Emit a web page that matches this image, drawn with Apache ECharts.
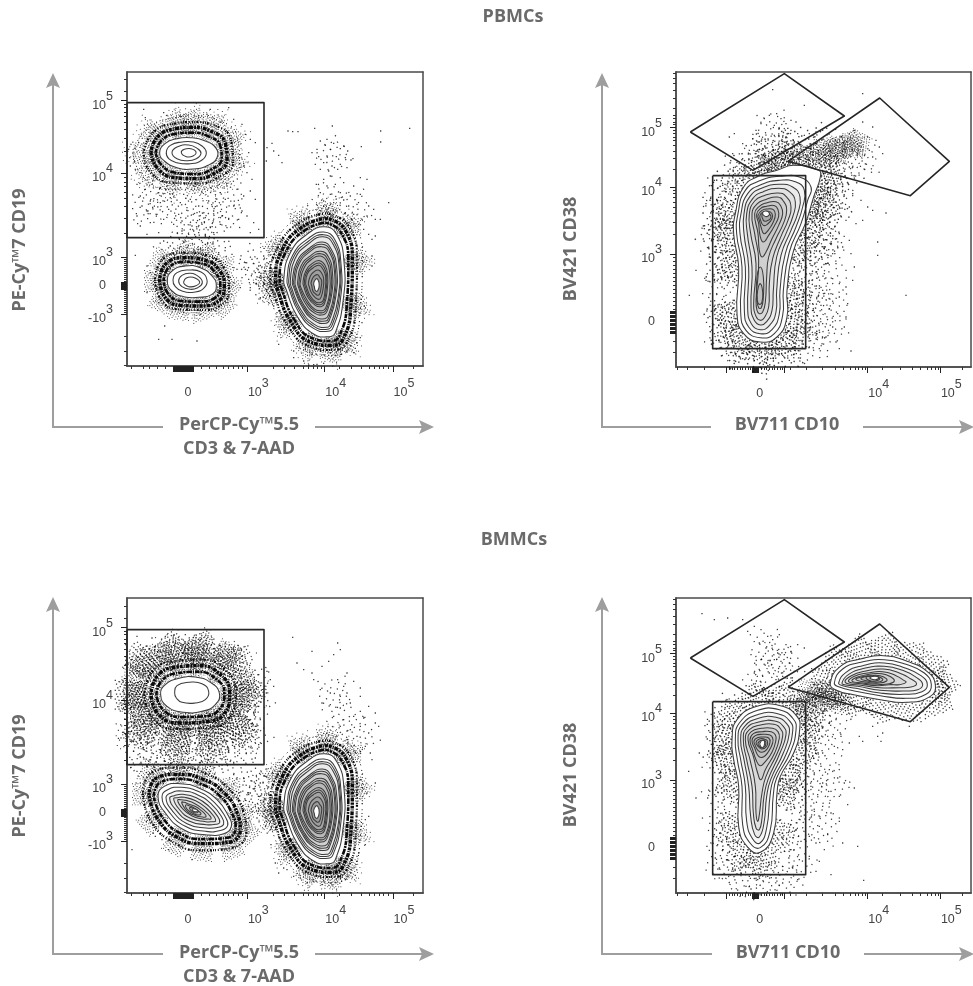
<!DOCTYPE html>
<html>
<head>
<meta charset="utf-8">
<title>PBMCs and BMMCs gating</title>
<script src="https://cdn.jsdelivr.net/npm/echarts@6/dist/echarts.min.js"></script>
<style>html,body{margin:0;padding:0;background:#fff}#chart{width:973px;height:986px}</style>
</head>
<body>
<div id="chart"></div>
<script>
// All marks are in channels: the plot scale is 0-888 on x, 0-882 on y (biexponential display).

// ---- tick positions (channel of each tick) ----
const cd3Labels = [[183,'0'],[361,'10',3],[593,'10',4],[798,'10',5]];
const cd3Major = [138,141,144,147,150,153,156,159,162,165,168,171,174,177,180,183,186,189,192,195,198,361,593,798];
const cd3Minor = [13,48,68,90,116,223,246,268,288,303,318,333,346,438,473,503,528,543,558,570,583,638,673,703,728,743,758,768,783,858];
const cd19Labels = [[796,'10',5],[578,'10',4],[326,'10',3],[240,'0'],[155,'-10',3]];
const cd19Major = [796,578,326,155,230,232,234,236,238,240,242,244,246,248,250,252];
const cd19Minor = [860,823,786,775,762,748,730,709,682,643,565,552,538,520,503,478,443,398,320,314,308,302,296,290,284,278,272,266,260,254,228,222,216,210,204,198,192,186,180,174,168,162,88,43,3];
const cd10Labels = [[251,'0'],[575,'10',4],[793,'10',5]];
const cd10Major = [151,228,231,234,237,240,243,246,248,325,575,793];
const cd10Minor = [3,35,85,160,168,176,184,192,200,208,216,224,256,264,272,280,288,296,304,312,320,343,391,438,478,501,523,538,548,558,568,618,673,708,733,753,765,778,788,858];
const cd38Labels = [[718,'10',5],[540,'10',4],[338,'10',3],[135,'0']];
const cd38Major = [718,540,338,100,104,108,112,116,120,124,128,132,136,140,144,148,152,156,160,164,168];
const cd38Minor = [882,865,850,830,805,775,755,745,735,728,710,701,690,679,664,647,625,594,531,520,509,495,479,460,435,399,330,318,306,294,282,270,258,246,234,222,210,198,186,174,78,45];

// ---- gates ----
const gateCd19 = [[0,790],[411,790],[411,385],[0,385]];
const gateCd38Plasma = [[43,705],[325,880],[505,753],[231,590]];
const gateCd10Pos = [[336,617],[611,807],[820,617],[703,514]];
const gateCd10Neg = [[110,574],[389,574],[389,55],[110,55]];

// ---- contours, outermost first ----
const tCellContours = [
  [[593,418],[630,393],[651,313],[648,193],[625,100],[608,88],[560,96],[510,150],[478,228],[470,258],[490,340],[540,395]],
  [[590,402],[624,378],[642,306],[640,198],[618,115],[603,104],[561,112],[516,160],[486,232],[480,258],[497,332],[543,382]],
  [[589,394],[621,372],[639,303],[636,200],[615,122],[601,110],[562,118],[519,164],[490,233],[485,257],[500,327],[545,375]],
  [[588,388],[618,366],[636,300],[633,202],[612,128],[600,116],[562,125],[522,168],[494,234],[490,256],[504,322],[546,368]],
  [[586,372],[612,352],[629,294],[626,206],[608,140],[597,128],[562,136],[526,176],[500,236],[496,254],[510,314],[548,354]],
  [[585,365],[610,346],[625,291],[623,208],[606,146],[596,135],[562,142],[528,180],[503,237],[500,254],[513,310],[549,349]],
  [[584,358],[608,340],[622,288],[620,210],[604,152],[594,142],[563,148],[530,184],[506,238],[504,254],[516,306],[550,344]],
  [[582,344],[604,328],[616,284],[614,214],[600,164],[590,154],[564,158],[534,190],[514,238],[512,252],[522,300],[552,332]],
  [[581,337],[601,322],[612,282],[611,216],[598,169],[588,160],[564,164],[537,194],[517,239],[516,252],[526,296],[553,326]],
  [[580,330],[598,316],[608,280],[608,218],[596,174],[586,166],[564,170],[540,198],[520,240],[520,252],[530,292],[554,320]],
  [[578,316],[594,302],[602,274],[600,222],[592,186],[582,178],[565,182],[544,204],[530,240],[528,250],[536,284],[556,308]],
  [[577,309],[591,296],[599,271],[597,224],[590,191],[580,184],[565,187],[547,207],[534,240],[532,250],[539,281],[557,301]],
  [[576,302],[588,290],[596,268],[594,226],[588,196],[578,190],[566,192],[550,210],[538,240],[536,250],[542,278],[558,294]],
  [[574,288],[584,278],[590,262],[588,230],[582,206],[576,200],[566,204],[554,218],[546,240],[544,248],[550,270],[560,282]],
  [[572,274],[578,266],[584,256],[582,234],[578,216],[572,212],[566,216],[558,224],[554,242],[552,248],[556,262],[562,270]],
  [[570,262],[574,256],[576,250],[576,236],[572,226],[568,224],[564,228],[562,238],[560,246],[562,254],[566,260]]
];
const tCellRings = [
  [[595,430],[640,403],[664,313],[660,190],[637,90],[610,75],[555,84],[500,142],[466,226],[458,258],[478,345],[535,408]],
  [[597,443],[652,412],[676,313],[672,185],[648,80],[612,62],[550,72],[490,135],[454,222],[446,258],[466,350],[530,420]],
  [[600,458],[665,420],[690,313],[686,180],[660,72],[614,48],[545,60],[480,125],[440,218],[430,258],[452,355],[525,435]],
  [[605,475],[680,430],[706,313],[700,172],[672,60],[616,32],[538,45],[470,115],[425,215],[412,258],[438,360],[520,450]]
];
const pbmcBContours = [
  [[98,640],[115,668],[150,682],[190,685],[235,675],[268,652],[270,625],[245,603],[200,591],[150,595],[112,615]],
  [[118,642],[130,662],[165,672],[200,672],[225,660],[238,640],[225,618],[190,607],[150,610],[125,622]],
  [[135,640],[150,657],[185,663],[212,652],[222,638],[208,622],[180,616],[150,622]],
  [[163,640],[172,650],[192,652],[207,642],[198,630],[178,628]]
];
const pbmcBRings = [
  [[86,640],[105,678],[150,697],[192,700],[242,690],[280,660],[284,622],[253,590],[202,576],[145,580],[102,605]],
  [[72,640],[92,688],[148,712],[195,716],[250,705],[295,668],[300,618],[262,578],[205,562],[140,566],[90,595]],
  [[50,640],[78,700],[146,728],[198,732],[260,722],[312,678],[318,612],[272,565],[208,548],[135,550],[70,582]],
  [[18,640],[60,712],[145,745],[200,750],[270,738],[330,690],[338,610],[285,550],[210,530],[130,530],[50,565]]
];
const pbmcNegContours = [
  [[121,255],[135,285],[175,300],[220,295],[255,270],[268,240],[255,215],[215,206],[170,208],[135,225]],
  [[138,258],[150,280],[185,288],[222,282],[240,258],[232,235],[205,222],[165,225],[145,238]],
  [[155,255],[165,272],[190,278],[215,268],[226,250],[212,235],[190,230],[165,238]],
  [[170,252],[178,264],[198,266],[218,252],[205,240],[185,238],[173,245]]
];
const pbmcNegRings = [
  [[110,255],[125,295],[175,312],[225,307],[265,280],[280,240],[265,205],[215,193],[165,195],[125,215]],
  [[98,255],[115,305],[175,325],[232,318],[275,290],[292,240],[275,195],[218,180],[160,182],[115,205]],
  [[84,255],[105,318],[175,340],[240,332],[288,298],[306,240],[285,185],[220,168],[155,170],[105,195]]
];
const bmmcBContours = [
  [[101,595],[115,625],[160,645],[205,648],[250,632],[277,600],[265,565],[225,545],[170,542],[120,560]],
  [[143,600],[150,622],[185,632],[225,628],[245,605],[235,580],[205,570],[165,572],[148,585]]
];
const bmmcBRings = [
  [[88,595],[105,638],[155,660],[208,664],[262,646],[292,600],[278,552],[230,530],[165,528],[110,548]],
  [[72,595],[92,652],[150,678],[212,682],[275,660],[308,600],[292,538],[235,514],[160,510],[95,535]],
  [[52,595],[78,666],[145,696],[216,700],[288,676],[326,600],[306,524],[240,496],[155,492],[80,520]],
  [[30,595],[62,682],[140,716],[220,720],[302,692],[344,600],[322,508],[245,476],[150,472],[60,502]],
  [[8,595],[44,700],[135,730],[225,734],[318,700],[364,600],[340,490],[250,452],[145,450],[40,484]],
  [[5,470],[140,425],[260,428],[355,470],[385,600],[340,705],[228,745],[130,742],[30,705],[-8,600]]
];
const bmmcNegContours = [
  [[93,290],[112,320],[160,328],[215,315],[270,280],[305,230],[313,200],[290,178],[235,175],[170,190],[115,240]],
  [[105,288],[122,310],[162,317],[213,305],[262,272],[295,228],[302,203],[283,188],[236,185],[175,200],[125,245]],
  [[117,286],[132,300],[165,306],[211,295],[254,266],[284,228],[290,207],[275,197],[237,195],[180,208],[135,248]],
  [[128,284],[142,292],[168,296],[208,286],[246,260],[273,228],[278,211],[266,206],[238,205],[186,216],[146,250]],
  [[140,282],[152,286],[172,287],[206,277],[238,255],[262,228],[266,216],[256,214],[236,214],[190,224],[156,252]],
  [[152,278],[162,280],[176,278],[204,268],[230,250],[250,230],[252,222],[244,222],[228,222],[194,232],[166,254]],
  [[164,272],[172,272],[182,268],[204,260],[222,248],[236,234],[236,228],[226,228],[206,232],[184,242],[172,256]],
  [[176,264],[186,262],[204,254],[214,246],[222,238],[214,234],[200,238],[186,246],[178,254]],
  [[188,256],[200,254],[208,250],[214,244],[206,240],[196,244],[190,250]],
  [[196,252],[204,252],[212,248],[206,244],[198,246]]
];
const bmmcNegRings = [
  [[80,292],[100,332],[158,342],[220,328],[280,290],[318,232],[326,195],[297,165],[232,162],[162,178],[103,232]],
  [[66,294],[88,345],[156,356],[226,342],[292,300],[332,236],[340,190],[304,152],[228,148],[155,165],[90,225]],
  [[48,296],[72,360],[154,376],[232,360],[306,312],[350,240],[358,184],[312,135],[224,128],[146,148],[72,215]]
];
const pbmcFootContours = [
  [[178,460],[203,540],[253,575],[303,590],[353,605],[428,590],[433,570],[413,510],[388,430],[353,350],[333,230],[333,150],[303,90],[253,75],[203,100],[183,160],[188,300],[173,400]],
  [[186,460],[208,530],[255,560],[310,572],[370,570],[405,540],[395,500],[375,430],[340,345],[322,230],[320,155],[295,100],[253,88],[210,110],[194,165],[198,300],[182,400]],
  [[195,460],[215,520],[258,548],[310,560],[360,555],[385,530],[380,480],[360,420],[328,340],[312,230],[310,160],[288,112],[253,100],[218,120],[205,170],[208,300],[192,400]],
  [[204,460],[222,512],[260,538],[310,548],[350,540],[372,510],[365,460],[345,410],[315,335],[302,230],[300,165],[280,124],[253,112],[226,130],[215,175],[218,300],[204,400]],
  [[212,460],[230,505],[262,526],[308,536],[340,526],[358,495],[350,450],[330,400],[302,330],[292,230],[288,170],[272,136],[253,126],[234,142],[225,180],[228,300],[214,400]],
  [[220,460],[236,498],[264,514],[306,522],[330,512],[345,480],[336,440],[315,392],[290,325],[280,250],[278,180],[265,148],[253,140],[240,152],[233,190],[240,310],[224,400]],
  [[228,460],[244,490],[268,502],[304,510],[322,498],[332,470],[322,430],[300,385],[278,330],[272,270],[268,195],[260,165],[250,160],[243,170],[240,200],[248,320],[236,400]],
  [[236,460],[250,482],[270,492],[300,496],[314,484],[320,460],[308,425],[288,385],[270,345],[258,330],[250,350],[246,400]],
  [[253,300],[262,270],[262,210],[256,178],[248,178],[242,205],[243,270]],
  [[242,458],[254,476],[272,482],[296,484],[306,472],[308,452],[296,425],[278,395],[262,375],[252,395],[248,430]],
  [[253,250],[260,225],[258,195],[250,188],[244,200],[245,230]],
  [[246,455],[258,470],[275,474],[292,472],[298,458],[292,435],[278,412],[264,400],[255,420],[250,440]],
  [[252,455],[262,465],[276,467],[288,460],[288,445],[274,428],[262,425],[254,440]],
  [[258,458],[268,462],[282,458],[284,446],[272,438],[262,440]],
  [[260,463],[270,468],[280,462],[275,452],[264,454]]
];
const pbmcFootRings = [
  [[165,460],[195,550],[250,592],[305,608],[360,625],[435,610],[450,570],[430,500],[402,430],[368,350],[348,230],[348,140],[315,75],[253,58],[195,85],[170,155],[175,300],[160,400]],
  [[150,460],[185,560],[245,610],[305,625],[365,645],[445,635],[470,570],[445,490],[420,420],[385,340],[365,220],[365,130],[325,62],[253,42],[185,72],[158,150],[160,300],[145,400]],
  [[130,460],[170,570],[240,630],[305,650],[370,670],[460,668],[495,570],[470,480],[440,410],[405,330],[385,210],[385,120],[335,50],[253,30],[175,60],[140,140],[140,300],[125,400]]
];
const bmmcFootContours = [
  [[168,460],[183,520],[243,560],[313,562],[363,530],[371,490],[353,420],[313,350],[303,300],[293,180],[253,122],[213,140],[188,200],[188,320],[173,400]],
  [[178,460],[190,510],[245,548],[310,550],[352,522],[360,488],[342,420],[302,345],[292,295],[282,185],[253,136],[222,150],[200,205],[198,320],[184,400]],
  [[186,460],[198,505],[248,536],[305,538],[342,515],[350,485],[332,420],[292,340],[282,290],[272,195],[252,150],[230,162],[212,215],[208,320],[194,400]],
  [[194,460],[206,500],[250,525],[300,527],[332,508],[340,480],[322,420],[284,340],[272,290],[264,210],[250,168],[236,175],[224,230],[218,320],[204,400]],
  [[202,460],[212,495],[252,514],[296,516],[322,500],[330,475],[312,420],[276,340],[264,290],[258,225],[250,190],[240,195],[232,240],[228,320],[212,400]],
  [[208,460],[220,490],[254,504],[294,506],[314,492],[320,470],[304,420],[270,350],[258,300],[250,235],[245,215],[240,240],[238,320],[222,400]],
  [[216,460],[226,484],[256,494],[290,494],[306,484],[310,465],[296,420],[268,370],[255,340],[245,360],[232,410]],
  [[222,460],[232,478],[258,484],[286,484],[298,475],[300,460],[288,422],[266,392],[252,382],[240,400],[230,430]],
  [[228,458],[238,472],[260,476],[282,474],[290,465],[290,450],[278,425],[262,408],[248,410],[236,435]],
  [[234,456],[244,466],[262,468],[278,465],[282,452],[272,430],[258,422],[246,428],[238,442]],
  [[240,452],[250,462],[264,462],[274,456],[272,440],[258,432],[248,438]],
  [[246,450],[256,458],[268,456],[268,442],[258,436],[250,440]],
  [[252,450],[262,458],[266,448],[260,436],[254,440]]
];
const bmmcFootRings = [
  [[155,460],[172,530],[240,575],[318,576],[376,540],[385,490],[366,420],[326,345],[316,300],[306,175],[256,105],[206,125],[176,195],[176,320],[160,400]],
  [[140,460],[160,540],[238,590],[322,590],[388,550],[400,490],[382,415],[340,340],[332,295],[322,165],[258,88],[198,110],[162,190],[162,320],[146,400]]
];
const bmmcHiContours = [
  [[463,630],[493,680],[553,702],[623,712],[693,695],[753,665],[778,625],[763,590],[693,572],[613,580],[533,595],[478,610]],
  [[475,630],[500,672],[555,692],[625,700],[690,686],[745,660],[766,625],[750,596],[690,584],[613,592],[535,606],[490,618]],
  [[488,630],[510,662],[560,682],[625,690],[685,676],[735,652],[754,625],[738,604],[685,596],[612,600],[540,614],[500,622]],
  [[498,630],[518,656],[565,674],[625,680],[680,668],[722,646],[740,626],[725,610],[680,606],[612,608],[545,620],[510,624]],
  [[508,632],[526,652],[570,666],[622,672],[670,660],[705,642],[722,628],[705,618],[670,616],[610,616],[550,624]],
  [[518,634],[535,650],[575,660],[620,664],[660,652],[680,640],[690,632],[670,625],[640,625],[605,622],[555,628]],
  [[528,636],[545,648],[580,656],[618,658],[645,648],[655,636],[640,628],[605,626],[560,630]],
  [[540,640],[555,648],[585,652],[612,652],[630,644],[632,636],[610,630],[575,632]],
  [[555,644],[575,650],[600,650],[620,642],[612,634],[585,634],[565,638]],
  [[570,646],[590,650],[610,644],[606,638],[585,636]],
  [[582,646],[597,650],[608,645],[598,640],[586,642]]
];
const bmmcHiRings = [
  [[450,630],[485,692],[550,716],[625,726],[698,708],[765,675],[792,625],[775,578],[695,560],[612,566],[530,582],[470,598]]
];

// ---- where the events clump, away from the contours ----
const pbmcCd19SparseClumps = [[60,470],[120,480],[180,450],[240,470],[300,460],[200,410],[250,420],[90,520],[300,520],[600,500],[620,630],[680,480],[200,350],[260,350],[140,350],[400,280],[430,240],[380,310]];
const bmmcCd19SparseClumps = [[40,420],[100,410],[160,420],[220,410],[280,420],[340,420],[380,470],[60,470],[20,500],[100,500],[180,480],[260,490],[340,520],[150,400],[260,395],[60,360],[340,320],[400,280],[430,240],[380,310],[410,330],[650,520],[700,470],[620,600],[380,640],[385,560]];
const bmmcCd19DenseClumps = [[20,600],[20,650],[15,560],[40,540],[100,540],[180,520],[260,530],[330,570],[350,640],[300,720],[200,730],[100,720],[40,680]];
const pbmcCd38SparseClumps = [[420,500],[450,450],[480,520],[430,400],[460,350],[420,330],[450,270],[420,210],[470,190],[420,120],[460,110],[400,60],[130,520],[135,430],[135,340],[135,250],[135,160],[145,90],[170,60],[360,90],[372,170],[370,260],[310,680],[290,720],[330,640],[250,650],[530,610],[560,620]];
const pbmcCd38DenseClumps = [[453,650],[470,660],[500,655],[520,670],[480,645],[430,640],[400,630],[360,625],[320,615],[280,600],[425,520],[405,470],[530,660],[545,672]];
const bmmcCd38SparseClumps = [[130,500],[135,400],[135,300],[135,200],[135,110],[160,70],[200,40],[260,35],[320,40],[365,80],[370,170],[375,260],[370,350],[385,440],[400,540],[420,500],[460,460],[430,370],[470,330],[420,270],[440,190],[480,540],[440,590],[270,740],[300,700],[260,650],[330,680]];
const bmmcCd38DenseClumps = [[400,610],[450,600],[440,575],[500,575],[395,575],[420,590],[470,590],[385,560]];

// ---- single events ----
const pbmcCd19Dots = [[483,705],[497,703],[513,703],[563,713],[616,720],[761,705],[848,713],[703,658],[761,672],[435,668],[420,655],[440,645],[455,632],[465,610],[418,615],[600,680],[580,675],[595,662],[620,668],[650,660],[640,652],[662,645],[610,650],[570,650],[555,640],[575,628],[600,630],[628,628],[655,625],[672,618],[590,610],[615,600],[640,605],[565,605],[580,590],[605,585],[632,590],[660,595],[610,570],[640,565],[590,560],[568,545],[600,540],[625,545],[650,550],[680,540],[700,565],[720,560],[580,520],[610,515],[640,520],[670,510],[700,515],[590,495],[620,490],[650,498],[665,480],[690,485],[725,480],[740,470],[745,440],[785,490],[600,470],[630,465],[655,460],[680,455],[705,440],[720,450],[570,455],[590,445],[612,450],[650,440],[675,438],[695,425],[710,410],[725,395],[735,380],[590,480],
[30,545],[55,530],[40,510],[75,545],[95,520],[120,540],[145,530],[170,515],[200,540],[225,520],[250,535],[280,520],[300,540],[330,530],[350,510],[370,525],[385,500],[45,480],[70,495],[100,490],[130,505],[160,490],[190,500],[215,480],[245,495],[270,480],[295,500],[320,480],[345,465],[30,450],[60,465],[90,455],[125,470],[155,455],[180,475],[210,460],[235,445],[260,465],[285,450],[305,440],[335,440],[360,450],[380,430],[40,420],[70,430],[110,440],[140,425],[165,435],[195,420],[225,425],[250,415],[280,425],[300,415],[165,405],[185,395],[200,405],[215,400],[235,395],[260,400],[95,400],[60,395],[370,400],[395,410],
[50,770],[110,760],[120,752],[55,745],[160,750],[250,770],[305,775],[240,755],[170,735],[215,745],[285,735],[320,740],[345,725],[355,695],[370,680],[385,670],[365,640],[350,600],[360,580],[375,560],[10,600],[8,625],[5,650],[12,665],[25,590],[35,670],[22,612],
[110,375],[130,360],[150,345],[170,370],[195,380],[215,350],[235,365],[255,345],[275,340],[295,355],[315,335],[120,335],[340,320],[355,310],[330,290],[345,265],[320,250],[340,235],[315,215],[300,190],[60,300],[70,280],[80,245],[60,220],[95,190],[120,175],[170,160],[220,155],[265,165],[25,332],[113,120],[95,80],[135,80],[210,75],
[375,320],[395,300],[410,330],[420,310],[385,280],[400,270],[415,285],[430,300],[445,325],[380,250],[395,240],[410,250],[425,265],[440,280],[405,225],[420,230],[435,245],[450,255],[430,210],[445,215],[355,290],[365,260],[370,235],[440,180],[450,160],[425,190],[400,205],
[455,65],[500,45],[500,25],[530,15],[545,3],[560,4],[570,5],[590,8],[535,50],[555,35],[580,45],[610,40],[640,35],[660,45],[680,40],[690,70],[700,85],[705,130],[712,180],[735,300],[735,330],[745,390],[760,440]];

const bmmcCd19Dots = [[497,767],[555,725],[632,750],[640,730],[620,715],[510,690],[530,670],[555,660],[585,680],[605,695],[632,640],[660,660],[650,620],[680,635],[700,615],[660,600],[700,590],[640,590],[610,600],[580,610],[560,640],[585,570],[610,565],[640,555],[670,570],[700,545],[725,560],[745,540],[745,510],[755,500],[620,530],[650,520],[680,530],[710,525],[640,500],[670,490],[700,500],[725,480],[600,480],[630,470],[660,460],[690,470],[715,440],[730,420],[700,425],[590,455],[615,445],[645,440],[745,330],[725,230],[715,145],[695,120],[690,95],[660,50],[640,45],[610,30],[585,25],[560,40],[530,60],[510,85],[470,75],[445,90],[432,145],
[420,665],[430,640],[440,620],[418,600],[405,590],[395,655],[370,650],[380,630],[375,700],[360,690],[345,710],[320,730],[295,750],[255,760],[220,760],[175,775],[145,750],[115,770],[85,740],[45,730],[30,770],[75,765],[12,700],[25,680],[395,560],[380,540],[400,520],[360,545],[340,530],[385,500],[350,480],
[15,540],[40,550],[65,535],[90,545],[115,530],[140,540],[165,525],[190,545],[215,530],[240,540],[265,525],[290,540],[315,530],[335,545],[365,520],[20,510],[50,515],[75,505],[105,510],[130,498],[155,510],[180,495],[205,515],[230,500],[255,512],[280,500],[305,510],[330,498],[358,495],[30,480],[55,490],[85,478],[110,485],[135,475],[165,485],[190,470],[215,485],[240,472],[265,482],[290,470],[315,485],[340,470],[365,465],[385,460],[10,455],[40,460],[65,450],[95,460],[120,445],[145,455],[170,440],[195,455],[220,442],[248,455],[272,445],[298,455],[322,440],[350,450],[375,435],[395,445],[20,425],[48,435],[75,420],[100,430],[125,415],[150,428],[178,418],[205,430],[230,412],[255,425],[280,415],[305,428],[332,412],[358,420],[385,405],[15,400],[40,408],[65,395],[90,405],[115,395],[140,400],[165,392],[195,398],[220,392],[245,400],[270,392],[295,400],[320,392],[350,398],[378,392],
[30,365],[60,378],[80,340],[120,375],[150,385],[180,368],[215,378],[250,365],[285,372],[320,355],[350,345],[40,330],[55,300],[65,260],[58,215],[78,180],[105,160],[125,130],[195,100],[15,130],[85,170],[165,160],[215,150],[250,150],[295,155],[335,190],[350,250],[335,300],[365,225],
[370,300],[385,320],[400,330],[415,350],[395,290],[410,275],[425,300],[440,325],[385,260],[405,245],[425,260],[435,285],[415,225],[430,215],[445,240],[390,225],[445,190],[455,170],[430,190],[455,60],[480,70],[500,50],[520,45],[540,30],[560,35],[590,38],[615,25],[640,50],[655,40],[672,70],[690,110],[715,220],[720,300],[700,340],[735,400]];

const pbmcCd38Dots = [[290,832],[302,760],[385,785],[560,820],[590,720],[560,735],[535,710],[520,700],[495,690],[470,685],[280,755],[265,745],[255,730],[330,730],[315,745],[345,740],[360,735],[295,725],[310,715],[345,710],[365,700],[385,695],[400,700],[420,705],[440,710],[295,695],[320,690],[240,710],[230,685],[250,675],[275,670],[300,665],[330,675],[355,675],[160,690],[175,700],[200,670],[220,650],[240,640],[258,650],[200,625],[170,640],[600,680],[575,690],[610,660],[580,650],[620,640],[590,630],[545,640],[510,630],[480,610],[450,600],[520,600],[495,580],[465,560],[440,585],
[420,540],[450,550],[480,545],[500,530],[530,520],[555,500],[590,470],[630,462],[575,480],[520,480],[495,490],[470,510],[440,500],[425,470],[455,470],[485,460],[510,440],[540,430],[560,440],[605,375],[690,215],[605,335],[520,380],[490,400],[460,420],[440,440],[410,400],[435,395],[470,385],[500,360],[525,340],[470,340],[445,355],[415,360],[405,320],[430,325],[450,310],[480,310],[510,290],[535,300],[420,285],[445,280],[470,265],[490,250],[510,240],[530,260],[400,260],[420,235],[440,230],[465,220],[490,210],[515,190],[395,215],[410,190],[435,185],[460,175],[485,160],[510,150],[395,165],[415,140],[440,130],[470,120],[505,120],[395,105],[420,95],[450,90],[480,75],[525,48],[490,55],[400,60],[430,55],
[115,560],[125,500],[90,490],[85,415],[100,330],[60,290],[40,215],[80,220],[90,260],[112,470],[118,430],[125,390],[115,345],[120,300],[115,260],[122,220],[118,175],[125,140],[115,100],[128,80],[140,545],[135,510],[150,500],[130,475],[145,440],[138,410],[150,385],[135,350],[150,325],[140,290],[155,270],[138,240],[150,215],[140,180],[152,165],[135,130],[148,110],[165,85],[178,70],[200,55],[220,45],[250,35],[275,28],[300,40],[320,35],[340,20],[265,15],[235,20],[200,25],[180,40],[155,60],[358,60],[375,80],[360,110],[380,130],[350,160],[375,190],[355,220],[378,250],[365,280],[380,320],[372,360],[385,395],[370,420]];

const bmmcCd38Dots = [[78,838],[115,820],[155,825],[200,820],[215,785],[235,800],[255,790],[275,770],[290,760],[310,775],[330,745],[250,750],[270,735],[290,730],[305,720],[325,715],[345,725],[365,745],[385,735],[225,715],[255,700],[275,690],[295,700],[315,695],[340,690],[355,665],[235,660],[260,650],[280,660],[300,640],[320,650],[345,645],[220,620],[240,610],[265,615],[290,600],[310,620],[350,605],[370,595],[395,605],[420,585],[450,590],[430,610],[455,575],[500,565],[535,555],[560,560],[590,535],[605,510],[640,520],[605,470],[615,455],[550,470],[560,455],[495,470],[520,450],[460,510],[480,520],[440,540],[420,515],[405,520],[400,480],[430,490],[455,470],[475,440],[500,430],[420,450],[440,420],[410,410],[435,380],[460,370],[485,345],[505,330],[535,315],[415,360],[440,330],[465,305],[490,290],[515,265],[405,320],[425,295],[440,260],[465,240],[490,215],[415,245],[400,220],[430,200],[455,175],[400,170],[420,150],[445,130],[500,150],[545,140],[400,110],[430,95],[465,55],[563,38],[420,65],
[115,540],[130,500],[70,420],[38,365],[60,285],[95,285],[120,470],[125,430],[118,395],[130,360],[125,325],[120,290],[118,250],[128,210],[115,175],[125,145],[118,105],[130,75],[145,520],[138,480],[150,450],[140,415],[150,380],[140,345],[152,310],[138,270],[150,240],[140,195],[152,165],[140,130],[155,100],[170,75],[195,60],[220,50],[245,40],[275,50],[300,45],[320,30],[345,25],[365,40],[350,75],[370,100],[345,130],[375,155],[350,185],[372,220],[345,250],[378,280],[355,310],[372,345],[360,385],[378,420],[385,460],[210,20],[225,12],[440,600],[620,480],[590,500],[700,500],[730,540],[790,600],[800,640],[780,580]];

const LABEL_COLOR = '#444';
const FRAME_COLOR = '#4a4a4a';
const TITLE_COLOR = '#6a6a6a';
const ARROW_COLOR = '#9e9e9e';
const TITLE_FONT = "'Open Sans', 'Noto Sans', sans-serif";

// speckle stamps: one symbol stands for a clump of events in a dense band
const SPECKLE_DENSE = [[0,0],[3,1],[6,0],[9,2],[12,1],[15,0],[18,2],[21,1],[23,3],[1,3],[5,3],[8,4],[11,4],[14,3],[17,4],[20,5],[2,6],[4,5],[7,6],[10,7],[13,6],[16,6],[19,7],[22,6],[0,8],[3,8],[6,9],[9,9],[12,8],[15,9],[18,9],[21,9],[1,11],[4,11],[7,11],[11,10],[14,11],[17,11],[20,11],[23,11],[2,13],[5,13],[8,14],[10,12],[13,13],[16,13],[19,13],[22,14],[0,15],[3,16],[6,16],[9,16],[12,15],[15,16],[18,15],[21,16],[1,18],[4,18],[7,19],[11,18],[14,18],[17,18],[20,19],[23,18],[2,21],[5,20],[8,21],[10,20],[13,21],[16,20],[19,21],[22,21],[0,23],[3,23],[6,23],[9,23],[12,23],[15,22],[18,23],[23,23]];
const SPECKLE_SPARSE = [[0,0],[5,2],[11,0],[17,3],[23,1],[2,6],[8,5],[14,7],[20,6],[0,11],[6,10],[11,12],[16,10],[22,12],[3,15],[9,16],[14,15],[19,17],[1,20],[7,21],[12,19],[17,22],[23,23],[4,23]];
function stampPath(dots) {
  return 'path://' + dots.map(d => `M${d[0]} ${d[1]}h1v1h-1z`).join('');
}
const STAMP_DENSE = stampPath(SPECKLE_DENSE);
const STAMP_SPARSE = stampPath(SPECKLE_SPARSE);

// stamp size and dashed pass per band, from the contour outwards
const BAND_STAMPS = [[STAMP_DENSE, 14], [STAMP_DENSE, 18], [STAMP_DENSE, 22], [STAMP_SPARSE, 22], [STAMP_SPARSE, 30], [STAMP_SPARSE, 34]];
const HEAVY_BAND_STAMPS = [[STAMP_DENSE, 14], [STAMP_DENSE, 20], [STAMP_DENSE, 26], [STAMP_DENSE, 28], [STAMP_DENSE, 30], [STAMP_SPARSE, 26]];
const LIGHT_BAND_STAMPS = [[STAMP_DENSE, 30], [STAMP_SPARSE, 32], [STAMP_SPARSE, 34]];
const BAND_LINES = [
  { width: 2.6, dash: [4, 1, 2, 1, 6, 1, 1, 1] },
  { width: 3.4, dash: [2, 1, 3, 1, 1, 1, 4, 1] },
  { width: 2.2, dash: [1, 1, 2, 2, 1, 2, 1, 1] },
  { width: 1, dash: [1, 3, 1, 2, 1, 5] },
  { width: 1, dash: [1, 4, 1, 3, 1, 6] },
  { width: 1, dash: [1, 5, 1, 7, 1, 4] }
];

const labelRich = {
  n: { fontSize: 12.5, fontFamily: 'Liberation Sans', color: LABEL_COLOR, lineHeight: 22, verticalAlign: 'bottom' },
  e: { fontSize: 12.5, fontFamily: 'Liberation Sans', color: LABEL_COLOR, lineHeight: 22, verticalAlign: 'top' },
  m: { fontSize: 12.5, fontFamily: 'Liberation Sans', color: LABEL_COLOR, lineHeight: 22, verticalAlign: 'middle' },
  p: { width: 22, lineHeight: 22 },
  q: { width: 7, lineHeight: 22 }
};

function labelText(labels, value, isX) {
  const hit = labels.find(l => l[0] === value);
  if (!hit) return '';
  if (hit[2] === undefined) return isX ? `{n|${hit[1]}}` : `{m|${hit[1]}}{q| }`;
  return (isX ? '{p| }' : '') + `{n|${hit[1]}}{e|${hit[2]}}`;
}

function valueAxis(gridIndex, isX, max, major, minor, labels) {
  const pos = isX ? 'bottom' : 'left';
  const base = { gridIndex, type: 'value', min: 0, max, position: pos, splitLine: { show: false }, silent: true,
    axisLine: { show: true, onZero: false, lineStyle: { color: FRAME_COLOR, width: 1.5 } } };
  return [
    { ...base,
      axisTick: { show: true, length: 6, customValues: major, lineStyle: { color: '#222', width: 1 } },
      axisLabel: { show: true, customValues: labels.map(l => l[0]), margin: isX ? 11 : 14, rich: labelRich,
        formatter: v => labelText(labels, v, isX) } },
    { ...base,
      axisTick: { show: true, length: 3, customValues: minor, lineStyle: { color: '#333', width: 1 } },
      axisLabel: { show: false } }
  ];
}

function lineSeries(path, xIdx, yIdx, color, width, dash, z) {
  return { type: 'line', xAxisIndex: xIdx, yAxisIndex: yIdx, data: path, showSymbol: false, symbol: 'none', silent: true,
    animation: false, z, lineStyle: { color, width, type: dash || 'solid', cap: 'butt', join: 'round' } };
}

function stampSeries(anchors, xIdx, yIdx, stamp, size) {
  return { type: 'scatter', xAxisIndex: xIdx, yAxisIndex: yIdx, data: anchors, symbol: stamp, symbolSize: size, silent: true, animation: false,
    symbolRotate: (v, params) => (params.dataIndex * 67) % 360, itemStyle: { color: '#0a0a0a' }, z: 2 };
}

// one contour family: the outer contour is filled white so it masks the events under it,
// large families darken towards the peak, and their innermost contour stays white
function contourSeries(group, xIdx, yIdx) {
  const shaded = group.length > 8;
  function fillOf(k) {
    if (k === 0 || (shaded && k === group.length - 1)) return '#fff';
    return shaded && k > 1 ? 'rgba(60,60,60,0.05)' : 'none';
  }
  return { type: 'custom', xAxisIndex: xIdx, yAxisIndex: yIdx, silent: true, animation: false, z: 4, clip: true,
    data: group.map((c, k) => [c[0][0], c[0][1], k]),
    renderItem: (params, api) => ({
      type: 'polygon',
      shape: { points: group[params.dataIndex].map(p => api.coord(p)), smooth: 0.5 },
      style: { fill: fillOf(params.dataIndex), stroke: '#3c3c3c', lineWidth: 1.05 }
    }) };
}

const PANELS = [
  { box: { left: 127, top: 72, width: 296, height: 294 }, xMax: 888, yMax: 882,
    x: [cd3Major, cd3Minor, cd3Labels], y: [cd19Major, cd19Minor, cd19Labels], gates: [gateCd19],
    contours: [pbmcBContours, pbmcNegContours, tCellContours], rings: [pbmcBRings, pbmcNegRings, tCellRings], heavyRings: [], lightRings: [],
    sparse: pbmcCd19SparseClumps, dense: [], dots: pbmcCd19Dots },
  { box: { left: 676, top: 72, width: 295, height: 295 }, xMax: 885, yMax: 885,
    x: [cd10Major, cd10Minor, cd10Labels], y: [cd38Major, cd38Minor, cd38Labels], gates: [gateCd38Plasma, gateCd10Pos, gateCd10Neg],
    contours: [pbmcFootContours], rings: [], heavyRings: [], lightRings: [pbmcFootRings],
    sparse: pbmcCd38SparseClumps, dense: pbmcCd38DenseClumps, dots: pbmcCd38Dots },
  { box: { left: 127, top: 598, width: 296, height: 295 }, xMax: 888, yMax: 885,
    x: [cd3Major, cd3Minor, cd3Labels], y: [cd19Major, cd19Minor, cd19Labels], gates: [gateCd19],
    contours: [bmmcBContours, bmmcNegContours, tCellContours], rings: [bmmcNegRings, tCellRings], heavyRings: [bmmcBRings], lightRings: [],
    sparse: bmmcCd19SparseClumps, dense: bmmcCd19DenseClumps, dots: bmmcCd19Dots },
  { box: { left: 676, top: 598, width: 295, height: 295 }, xMax: 885, yMax: 885,
    x: [cd10Major, cd10Minor, cd10Labels], y: [cd38Major, cd38Minor, cd38Labels], gates: [gateCd38Plasma, gateCd10Pos, gateCd10Neg],
    contours: [bmmcFootContours, bmmcHiContours], rings: [], heavyRings: [], lightRings: [bmmcFootRings, bmmcHiRings],
    sparse: bmmcCd38SparseClumps, dense: bmmcCd38DenseClumps, dots: bmmcCd38Dots }
];

function bandSeries(group, stamps, xIdx, yIdx) {
  const out = [];
  group.forEach((ring, k) => {
    out.push(stampSeries(ring, xIdx, yIdx, stamps[k][0], stamps[k][1]));
    const st = BAND_LINES[k];
    out.push({ ...lineSeries(ring.concat([ring[0]]), xIdx, yIdx, '#0a0a0a', st.width, st.dash, 3), smooth: 0.5 });
  });
  return out;
}

const grids = [], xAxes = [], yAxes = [], series = [];
PANELS.forEach((p, i) => {
  grids.push({ ...p.box, show: false, containLabel: false });
  const xIdx = xAxes.length, yIdx = yAxes.length;
  xAxes.push(...valueAxis(i, true, p.xMax, ...p.x));
  yAxes.push(...valueAxis(i, false, p.yMax, ...p.y));
  // top and right edges of the frame
  xAxes.push({ gridIndex: i, type: 'value', min: 0, max: p.xMax, position: 'top', axisTick: { show: false }, axisLabel: { show: false }, splitLine: { show: false },
    axisLine: { show: true, onZero: false, lineStyle: { color: FRAME_COLOR, width: 1.5 } } });
  yAxes.push({ gridIndex: i, type: 'value', min: 0, max: p.yMax, position: 'right', axisTick: { show: false }, axisLabel: { show: false }, splitLine: { show: false },
    axisLine: { show: true, onZero: false, lineStyle: { color: FRAME_COLOR, width: 1.5 } } });

  series.push({ type: 'scatter', xAxisIndex: xIdx, yAxisIndex: yIdx, data: p.dots, symbol: 'rect', symbolSize: 1.3, silent: true, animation: false,
    itemStyle: { color: '#111' }, z: 2 });
  series.push(stampSeries(p.sparse, xIdx, yIdx, STAMP_SPARSE, 30));
  if (p.dense.length) series.push(stampSeries(p.dense, xIdx, yIdx, STAMP_DENSE, 22));
  p.rings.forEach(group => series.push(...bandSeries(group, BAND_STAMPS, xIdx, yIdx)));
  p.heavyRings.forEach(group => series.push(...bandSeries(group, HEAVY_BAND_STAMPS, xIdx, yIdx)));
  p.lightRings.forEach(group => group.forEach((ring, k) => {
    const st = LIGHT_BAND_STAMPS[k];
    series.push(stampSeries(ring, xIdx, yIdx, st[0], st[1]));
  }));
  p.contours.forEach(group => series.push(contourSeries(group, xIdx, yIdx)));
  p.gates.forEach(g => {
    series.push(lineSeries(g.concat([g[0]]), xIdx, yIdx, '#262626', 1.6, null, 5));
  });
});

// ---- panel headings, axis captions and arrows ----
function caption(text, x, y, rotation) {
  return { type: 'text', x, y, rotation: rotation || 0, z: 10, silent: true,
    style: { text, fontFamily: TITLE_FONT, fontWeight: 700, fontSize: 18, fill: TITLE_COLOR, align: 'center', verticalAlign: 'middle' } };
}
function heading(text, x, y) {
  return { type: 'text', x, y, z: 10, silent: true,
    style: { text, fontFamily: TITLE_FONT, fontWeight: 700, fontSize: 18, fill: TITLE_COLOR, align: 'center', verticalAlign: 'middle' } };
}
function axisArrows(xv, tipY, yh, x1, x2, tipX) {
  const line = { stroke: ARROW_COLOR, lineWidth: 2, fill: null };
  return [
    { type: 'polyline', silent: true, shape: { points: [[xv, tipY + 10], [xv, yh], [x1, yh]] }, style: line },
    { type: 'polygon', silent: true, shape: { points: [[xv, tipY], [xv + 7, tipY + 15], [xv, tipY + 12], [xv - 7, tipY + 15]] }, style: { fill: ARROW_COLOR } },
    { type: 'line', silent: true, shape: { x1: x2, y1: yh, x2: tipX - 8, y2: yh }, style: line },
    { type: 'polygon', silent: true, shape: { points: [[tipX, yh], [tipX - 15, yh - 7], [tipX - 12, yh], [tipX - 15, yh + 7]] }, style: { fill: ARROW_COLOR } }
  ];
}

const graphics = [
  heading('PBMCs', 513, 17), heading('BMMCs', 514, 540),
  caption('PerCP-Cy™5.5', 239, 425), caption('CD3 & 7-AAD', 239, 449), caption('PE-Cy™7 CD19', 20, 250, Math.PI / 2),
  caption('BV711 CD10', 787, 425), caption('BV421 CD38', 571, 249, Math.PI / 2),
  caption('PerCP-Cy™5.5', 239, 953), caption('CD3 & 7-AAD', 239, 977), caption('PE-Cy™7 CD19', 20, 776, Math.PI / 2),
  caption('BV711 CD10', 788, 953), caption('BV421 CD38', 571, 775, Math.PI / 2),
  ...axisArrows(53, 73, 427, 163, 315, 434),
  ...axisArrows(602, 73, 427, 711, 863, 974),
  ...axisArrows(53, 597, 954, 163, 315, 434),
  ...axisArrows(602, 597, 954, 712, 864, 974)
];

const chart = echarts.init(document.getElementById('chart'), null, { renderer: 'canvas' });
chart.setOption({
  animation: false,
  backgroundColor: '#fff',
  grid: grids,
  xAxis: xAxes,
  yAxis: yAxes,
  series,
  graphic: graphics
});
</script>
</body>
</html>
